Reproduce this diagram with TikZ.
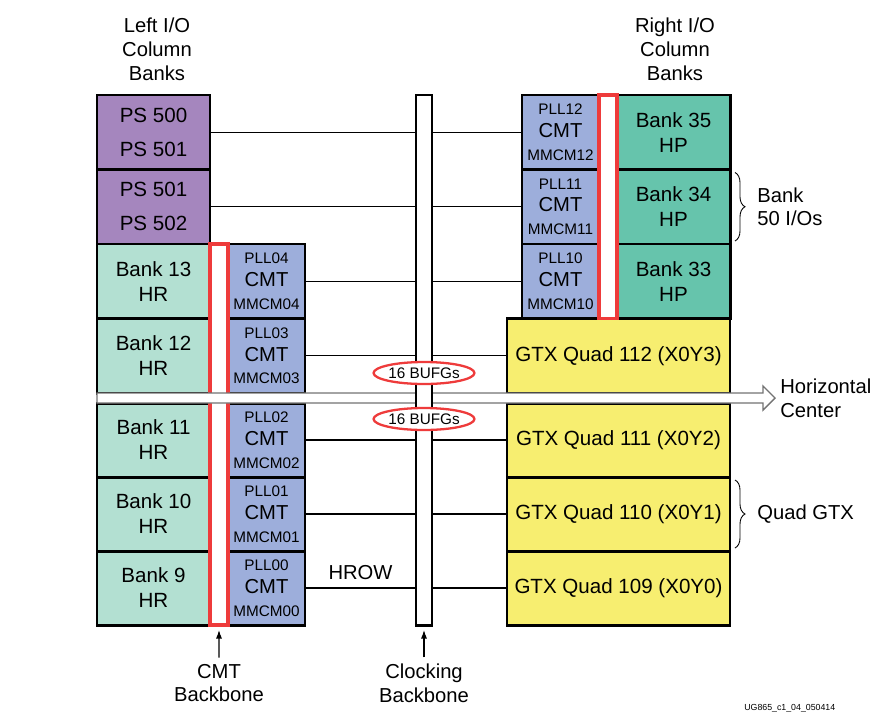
\documentclass[tikz,border=0pt]{standalone}
\usepackage{fontspec}
\setmainfont{Liberation Sans}
\usetikzlibrary{positioning,shapes.geometric,arrows.meta,calc,fit,decorations.pathreplacing}
\definecolor{psfill}{HTML}{A586BE}
\definecolor{hrfill}{HTML}{B3E0D2}
\definecolor{hpfill}{HTML}{66C4AC}
\definecolor{cmtfill}{HTML}{9DAEDB}
\definecolor{gtxfill}{HTML}{F7EE70}
\definecolor{busred}{HTML}{EE3B3B}
\newcommand{\tagsz}{\fontsize{8.7}{13}\selectfont}
\tikzset{
  box/.style={draw=black, line width=1.7pt, inner sep=0pt, outer sep=0pt, align=center,
    font=\fontsize{11.7}{14.2}\selectfont},
  toprow/.style={minimum height=1.49cm},
  botrow/.style={minimum height=1.48cm},
  psbank/.style={box, toprow, fill=psfill, minimum width=2.26cm, font=\fontsize{11.7}{19.3}\selectfont},
  hrbank/.style={box, fill=hrfill, minimum width=2.26cm},
  hpbank/.style={box, toprow, fill=hpfill, minimum width=2.26cm},
  cmt/.style={box, fill=cmtfill, minimum width=1.54cm, font=\fontsize{11.5}{13}\selectfont},
  gtx/.style={box, fill=gtxfill, minimum width=4.46cm},
  cmtbus/.style={draw=busred, line width=2pt, fill=white, inner sep=0pt, outer sep=0pt},
  clkbus/.style={draw=black, line width=1.7pt, fill=white, inner sep=0pt, outer sep=0pt},
  bufg/.style={ellipse, draw=busred, line width=1.3pt, fill=white, inner sep=0pt,
    minimum width=2cm, minimum height=0.44cm, font=\fontsize{8.7}{10}\selectfont},
  hrow/.style={line width=0.6pt},
  lbl/.style={align=center, font=\fontsize{11.5}{13.6}\selectfont},
  sidelbl/.style={lbl, anchor=west, align=left, inner sep=0pt},
  hcenter/.style={draw=black!55, line width=0.8pt, fill=white},
  brace/.style={decorate, decoration={brace, amplitude=0.2cm}, line width=0.5pt},
}

\begin{document}
\begin{tikzpicture}[>={Latex[length=0.17cm,width=0.12cm]}, x=0.2mm, y=-0.2mm]
\useasboundingbox (0,0) rectangle (884,714);

% left I/O column
\node (ps1)    [psbank, anchor=north] at (153.5,95) {PS 500\\PS 501};
\node (ps2)    [psbank, below=0pt of ps1] {PS 501\\PS 502};
\node (bank13) [hrbank, toprow, below=0pt of ps2] {Bank 13\\HR};
\node (bank12) [hrbank, toprow, below=0pt of bank13] {Bank 12\\HR};
\node (bank11) [hrbank, botrow, below=0.2cm of bank12] {Bank 11\\HR};
\node (bank10) [hrbank, botrow, below=0pt of bank11] {Bank 10\\HR};
\node (bank9)  [hrbank, botrow, below=0pt of bank10] {Bank 9\\HR};

\node (pll04) [cmt, toprow, right=0.36cm of bank13] {{\tagsz PLL04}\\CMT\\{\tagsz MMCM04}};
\node (pll03) [cmt, toprow, right=0.36cm of bank12] {{\tagsz PLL03}\\CMT\\{\tagsz MMCM03}};
\node (pll02) [cmt, botrow, right=0.36cm of bank11] {{\tagsz PLL02}\\CMT\\{\tagsz MMCM02}};
\node (pll01) [cmt, botrow, right=0.36cm of bank10] {{\tagsz PLL01}\\CMT\\{\tagsz MMCM01}};
\node (pll00) [cmt, botrow, right=0.36cm of bank9]  {{\tagsz PLL00}\\CMT\\{\tagsz MMCM00}};

% right I/O column
\node (hp35) [hpbank, anchor=north] at (673.5,95) {Bank 35\\HP};
\node (hp34) [hpbank, below=0pt of hp35] {Bank 34\\HP};
\node (hp33) [hpbank, below=0pt of hp34] {Bank 33\\HP};

\node (pll12) [cmt, toprow, left=0.36cm of hp35] {{\tagsz PLL12}\\CMT\\{\tagsz MMCM12}};
\node (pll11) [cmt, toprow, left=0.36cm of hp34] {{\tagsz PLL11}\\CMT\\{\tagsz MMCM11}};
\node (pll10) [cmt, toprow, left=0.36cm of hp33] {{\tagsz PLL10}\\CMT\\{\tagsz MMCM10}};

\node (gtx112) [gtx, toprow, anchor=north east] at (hp33.south east) {GTX Quad 112 (X0Y3)};
\node (gtx111) [gtx, botrow, below=0.2cm of gtx112] {GTX Quad 111 (X0Y2)};
\node (gtx110) [gtx, botrow, below=0pt of gtx111] {GTX Quad 110 (X0Y1)};
\node (gtx109) [gtx, botrow, below=0pt of gtx110] {GTX Quad 109 (X0Y0)};

% CMT backbones
\node (cmtbbl) [cmtbus, fit=(pll04.north west)(bank9.south east)] {};
\node (cmtbbr) [cmtbus, fit=(pll12.north east)(hp33.south west)] {};

% horizontal center
\draw[hcenter] (bank12.south west) -- ++(666,0) -- ++(0,-7) -- ++(12,12) -- ++(-12,12)
  -- ++(0,-7) -- (bank11.north west) -- cycle;
\node (hclbl) [sidelbl] at (780,398) {Horizontal\\Center};

% clocking backbone
\node (clkbb) [clkbus, minimum width=0.32cm, minimum height=10.6cm, anchor=north] at (424,95) {};

% HROW lines
\foreach \l/\r in {ps1/pll12, ps2/pll11, pll04/pll10, pll03/gtx112, pll02/gtx111, pll01/gtx110, pll00/gtx109} {
  \draw[hrow] (\l.east) -- (\l.east -| clkbb.west);
  \draw[hrow] (\r.west -| clkbb.east) -- (\r.west);
}
\node (hrow) [lbl, above=1pt] at ($(pll00.east)!0.5!(pll00.east -| clkbb.west)$) {HROW};

\node (bufgn) [bufg] at ($(clkbb.center |- bank12.south)+(0,-20)$) {16 BUFGs};
\node (bufgs) [bufg] at ($(clkbb.center |- bank11.north)+(0,16)$) {16 BUFGs};

% headers
\node (lhead) [lbl] at (157,49) {Left I/O\\Column\\Banks};
\node (rhead) [lbl] at (675,49) {Right I/O\\Column\\Banks};

% braces
\draw[brace] ($(hp34.north east)+(5,3)$) -- ($(hp34.south east)+(5,-3)$);
\node (iolbl) [sidelbl] at ($(hp34.east)+(27,0)$) {Bank\\50 I/Os};
\draw[brace] ($(gtx110.north east)+(5,3)$) -- ($(gtx110.south east)+(5,-3)$);
\node (gtxlbl) [sidelbl] at ($(gtx110.east)+(27,0)$) {Quad GTX};

% backbone labels
\node (cmtlbl) [lbl] at (219,683) {CMT\\Backbone};
\node (clklbl) [lbl] at (424,683) {Clocking\\Backbone};
\draw[->, line width=0.6pt] (cmtlbl.north) -- ($(cmtbbl.south)+(0,5)$);
\draw[->, line width=0.6pt] (clklbl.north) -- ($(clkbb.south)+(0,5)$);

\node (figid) [anchor=south west, inner sep=0pt, font=\fontsize{5}{6}\selectfont] at (744,713) {UG865\_c1\_04\_050414};
\end{tikzpicture}
\end{document}
